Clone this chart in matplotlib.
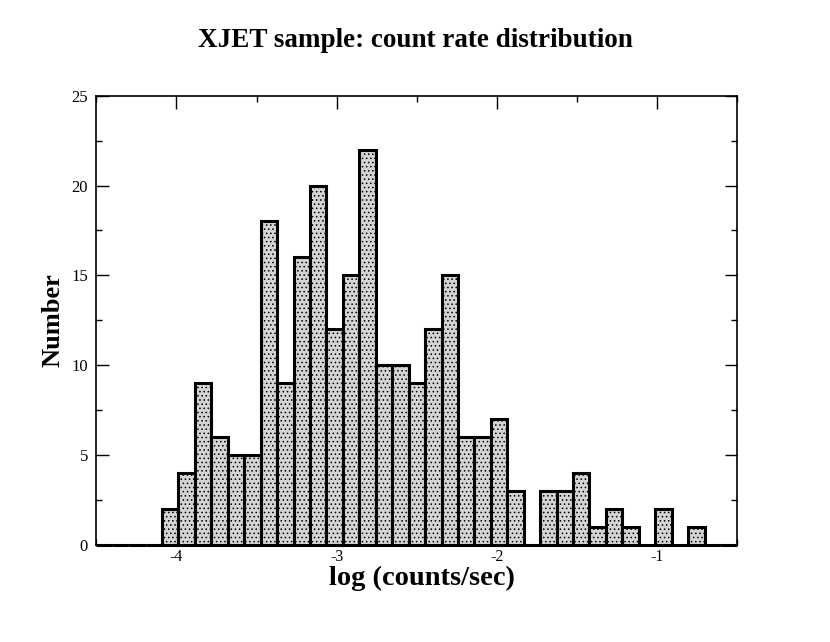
import numpy as np
import matplotlib
matplotlib.use('Agg')
import matplotlib.pyplot as plt
from matplotlib.ticker import MultipleLocator

# histogram: 39 bins between -4.5 and -0.5
x_min, x_max, n_bins = -4.5, -0.5, 39
counts = [0, 0, 0, 0,
          2, 4, 9, 6, 5, 5, 18, 9, 16, 20, 12, 15, 22, 10, 10, 9,
          12, 15, 6, 6, 7, 3, 0, 3, 3, 4, 1, 2, 1, 0, 2, 0, 1,
          0, 0]
edges = np.linspace(x_min, x_max, n_bins + 1)
x_ticks = [-4, -3, -2, -1]
y_ticks = [0, 5, 10, 15, 20, 25]

plt.rcParams['font.family'] = ['Liberation Serif', 'DejaVu Serif']
plt.rcParams['hatch.linewidth'] = 0.6
plt.rcParams['hatch.color'] = 'black'

fig = plt.figure(figsize=(8.3, 6.42), dpi=100)
ax = fig.add_axes([0.116, 0.151, 0.7725, 0.70])

bars = ax.bar(edges[:-1], counts, width=np.diff(edges), align='edge',
              facecolor='#d4d4d4', edgecolor='black', linewidth=2.2,
              hatch='....', zorder=2)
for b in bars:
    b.set_clip_on(False)  # zero bins still show the thick base line

ax.set_xlim(x_min, x_max)
ax.set_ylim(0, 25)
ax.set_xticks(x_ticks)
ax.set_yticks(y_ticks)
ax.xaxis.set_minor_locator(MultipleLocator(0.5))
ax.yaxis.set_minor_locator(MultipleLocator(2.5))
ax.tick_params(which='both', direction='in', top=True, right=True,
               labelsize=12, width=1, colors='black')
ax.tick_params(which='major', length=9)
ax.tick_params(which='minor', length=4.5)
ax.tick_params(axis='x', pad=3, labelsize=11.5)
ax.tick_params(axis='y', pad=6)
ax.set_xticklabels(['-4', '-3', '-2', '-1'])
for s in ax.spines.values():
    s.set_linewidth(1.2)

ax.set_xlabel('log (counts/sec)', fontsize=20.5, fontweight='bold')
ax.xaxis.set_label_coords(0.508, -0.047)
ax.set_ylabel('Number', fontsize=19, fontweight='bold')
ax.yaxis.set_label_coords(-0.049, 0.5)
fig.text(0.5, 1 - 47 / 642, 'XJET sample: count rate distribution',
         ha='center', va='baseline', fontsize=19.5, fontweight='bold')

fig.savefig('out.png', dpi=100)
